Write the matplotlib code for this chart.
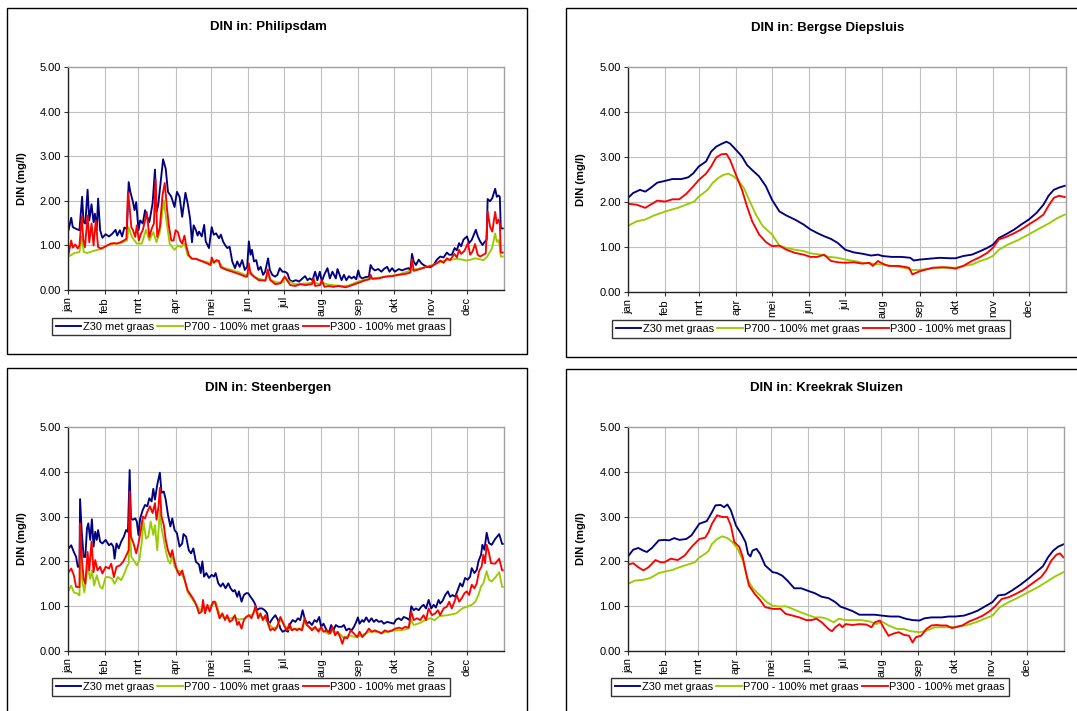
import matplotlib.pyplot as plt
from matplotlib.patches import Rectangle
import numpy as np

months = ['jan', 'feb', 'mrt', 'apr', 'mei', 'jun', 'jul', 'aug', 'sep', 'okt', 'nov', 'dec']
month_start = [0, 31, 59, 90, 120, 151, 181, 212, 243, 273, 304, 334]
series_names = ['Z30 met graas', 'P700 - 100% met graas', 'P300 - 100% met graas']
titles = ['DIN in: Philipsdam', 'DIN in: Bergse Diepsluis', 'DIN in: Steenbergen', 'DIN in: Kreekrak Sluizen']

# ---- Philipsdam (day, value) ----
phil_z30 = [[0.5,1.35],[2.7,1.62],[4,1.41],[6.8,1.37],[9.6,1.34],[11.8,2.09],[13,1.52],[14.5,1.49],[16.4,2.25],[17.8,1.56],[19.7,1.92],[21.4,1.52],[22.5,1.71],[24,1.34],[25.2,2.05],[26.9,1.34],[28.8,1.17],[31.5,1.25],[34.3,1.2],[37,1.26],[39.8,1.35],[41.2,1.22],[43.4,1.34],[45.3,1.2],[47.2,1.4],[49.4,1.37],[50.8,2.42],[52.2,2.2],[54.4,1.97],[55.7,1.79],[57.1,1.97],[59,1.34],[60.4,1.56],[62.6,1.49],[64.5,1.79],[65.9,1.67],[68.1,1.52],[70.8,1.94],[72.8,2.7],[74.1,1.75],[75.5,1.9],[77.4,2.37],[79.6,2.93],[81.8,2.72],[83.7,2.2],[86.5,2.09],[89.2,1.86],[91.2,2.2],[93.4,2.09],[95.6,1.64],[98.3,2.18],[100.2,1.94],[102.2,1.6],[103.8,1.07],[105.2,1.45],[107.1,1.34],[108.5,1.22],
            [109.7,1.31],[112,1.2],[114,1.46],[115.3,1.09],[118,0.94],[120.3,1.41],[122,1.24],[124,1.27],[126.4,1.16],[128,1.24],[129.8,1.09],[131.4,1.01],[133.4,0.94],[135.3,0.97],[137.5,0.64],[139.8,0.49],[141.7,0.64],[143.7,0.52],[145.8,0.67],[148,0.45],[150,0.52],[151.4,1.09],[152.8,0.79],[154,0.9],[155.7,0.64],[157.6,0.67],[159.4,0.45],[161.3,0.52],[163.3,0.34],[165,0.41],[167.5,0.71],[169,0.45],[171,0.34],[173.3,0.3],[175.3,0.34],[177.3,0.49],[179.5,0.41],[181.7,0.41],[183.7,0.37],[185.6,0.22],[187.9,0.19],[190.7,0.22],[193.5,0.19],[196.3,0.26],[198.5,0.31],[200.5,0.22],[202.4,0.26],[204.7,0.22],[206.9,0.41],[208.8,0.22],[210.8,0.41],[212.5,0.19],[214.5,0.34],[217.2,0.49],[219.2,0.26],[221.4,0.41],[224.2,0.26],[225.6,0.47],
            [229,0.22],[231,0.34],[233,0.22],[235.2,0.31],[237.4,0.26],[239.4,0.3],[241.3,0.24],[243,0.44],[244.4,0.3],[246.3,0.26],[249.1,0.29],[251.9,0.3],[253.3,0.56],[254.7,0.49],[256.9,0.44],[259.7,0.47],[262.4,0.41],[264.4,0.47],[267.2,0.52],[269.1,0.41],[271.3,0.49],[273.6,0.41],[276.9,0.47],[279.7,0.44],[282.4,0.47],[285.2,0.49],[286.6,0.44],[288,0.81],[289.4,0.64],[291.3,0.56],[293.6,0.68],[295.8,0.6],[297.7,0.56],[300.5,0.52],[303.3,0.51],[306,0.56],[308.8,0.68],[311.6,0.75],[314.4,0.73],[317.2,0.84],[319.1,0.79],[321.3,0.79],[323.7,0.94],[325.5,0.89],[327.4,1.05],[329.1,0.98],[331.1,1.13],[334,1.2],[335.8,1.05],[338.1,1.13],[340.3,1.28],[341.4,1.35],[343.1,1.2],[345,1.09],[347,1.01],[349.2,1.09],[350.5,1.13],[351.3,2.04],[353.3,1.99],[355.2,2.06],[357.6,2.27],[359,2.09],[360.4,2.12],[361.5,2.09],[362.3,1.38],[364,1.38]]
phil_p700 = [[0.5,0.75],[5.4,0.83],[9.6,0.85],[11.5,1.2],[13.2,0.85],[16.4,0.83],[20.6,0.87],[24.7,0.9],[28.8,0.93],[32.9,1.0],[38.4,1.04],[43.9,1.05],[49.4,1.11],[50.8,1.41],[53.5,1.19],[57.6,1.04],[61.8,1.04],[65.3,1.35],[68.1,1.11],[71.4,1.3],[74.1,1.07],[76.9,1.3],[80.2,2.01],[82.4,1.56],[85.1,1.04],[89.2,0.9],[92,1.0],[94.7,0.96],[97.5,1.04],[100.2,0.78],[103.8,0.7],[107,0.7],[110,0.67],[120,0.6],[122,0.64],[126,0.63],[130,0.5],[137,0.45],[143,0.4],[149,0.33],[151,0.36],[153,0.4],[156,0.3],[160,0.25],[165,0.22],[167,0.32],[170,0.22],[175,0.17],[180,0.17],[182,0.28],[185,0.2],[190,0.13],[195,0.14],[200,0.15],[206,0.17],[210,0.14],[213,0.16],[218,0.12],[225,0.1],[230,0.09],[235,0.1],[243,0.19],[249,0.24],[255,0.26],[266,0.3],[277,0.35],[288,0.45],[299,0.51],[309,0.6],[317,0.67],[326,0.7],[334,0.66],[341,0.71],[348,0.67],[351,0.75],[355,0.94],[357.6,1.27],[359,1.08],[360.4,1.12],[361.5,0.97],[362.3,0.75],[364,0.75]]
phil_p300 = [[0.5,0.81],[2.7,1.11],[4,0.95],[6,1.02],[8.2,0.93],[9.6,1.0],[11.5,1.65],[12.9,1.11],[14.2,0.96],[16.4,1.67],[17.8,1.07],[19.7,1.49],[21.4,1.0],[23.3,1.56],[25.2,0.96],[27.4,0.93],[30.2,0.96],[32.9,1.0],[35.7,1.04],[38.4,1.05],[41.2,1.04],[43.9,1.07],[46.7,1.11],[48.9,1.15],[50.2,2.2],[51.6,1.86],[53,1.41],[54.4,1.34],[56.3,1.19],[57.6,1.45],[59.3,1.11],[61,1.26],[62.6,1.34],[64.5,1.56],[65.9,1.75],[68.1,1.19],[70,1.37],[71.9,1.49],[73.3,2.48],[74.7,1.19],[76.9,1.41],[79.1,2.12],[81,2.4],[82.9,1.82],[84.6,1.41],[86.5,1.11],[88.4,1.11],[90.1,1.34],[92,1.3],[93.9,1.11],[95.6,1.04],[97.5,1.22],[98.9,1.0],[101.1,0.78],[103.8,0.7],[107.1,0.7],
             [109.7,0.67],[115.3,0.61],[119.4,0.56],[120.3,0.73],[122.2,0.61],[124.2,0.67],[126.4,0.65],[127.8,0.51],[131.9,0.46],[137.5,0.41],[143,0.36],[148.6,0.3],[150,0.3],[151.4,0.6],[152.8,0.37],[155.6,0.3],[159.7,0.22],[165.3,0.21],[167.2,0.46],[169.4,0.22],[173.6,0.13],[177.8,0.15],[181.4,0.3],[183.3,0.22],[186.1,0.11],[190.3,0.09],[194.4,0.13],[198.6,0.11],[204.2,0.13],[205.6,0.26],[206.9,0.09],[211.1,0.11],[212.5,0.22],[214.7,0.07],[218,0.09],[222.2,0.07],[226.4,0.09],
             [232.4,0.06],[238,0.11],[243,0.16],[249.1,0.22],[252.4,0.24],[253.3,0.34],[254.7,0.25],[260.2,0.26],[265.8,0.3],[271.3,0.31],[276.9,0.34],[282.4,0.36],[286.6,0.39],[288,0.69],[289.4,0.43],[293.6,0.46],[299.1,0.51],[304.7,0.54],[308.8,0.6],[311.6,0.66],[314.4,0.61],[317.2,0.71],[319.9,0.67],[323.5,0.81],[325.5,0.73],[327.4,0.9],[329.1,0.81],[331.9,0.88],[334.8,1.05],[336.7,0.79],[338.6,0.86],[340.8,1.03],[343,0.79],[345,0.75],[347.7,0.79],[349.7,0.82],[351.3,1.76],[353.3,1.42],[355.2,1.31],[357.6,1.75],[359,1.49],[360.4,1.58],[361.5,1.49],[362.3,0.84],[364,0.84]]

# ---- Bergse Diepsluis ----
berg_z30 = [[0,2.09],[4.3,2.2],[10,2.27],[14.4,2.23],[18.7,2.31],[24.4,2.43],[31,2.47],[37,2.51],[44.5,2.51],[50.3,2.55],[54.5,2.64],[59,2.79],[65,2.9],[69.3,3.12],[73.5,3.23],[77.8,3.29],[82,3.34],[85,3.3],[90,3.16],[95,3.01],[99.2,2.82],[103.5,2.71],[109.2,2.57],[114.9,2.35],[120,2.05],[126.2,1.79],[132,1.7],[139.1,1.61],[146.3,1.5],[152,1.39],[157.7,1.31],[163.4,1.24],[169.1,1.18],[174.8,1.09],[181,0.94],[188.2,0.88],[195.4,0.85],[202.6,0.81],[208.3,0.83],[212,0.8],[219.6,0.78],[228.1,0.78],[235.3,0.76],[238.1,0.7],[243,0.72],[251.1,0.74],[259.6,0.76],[268.1,0.75],[273,0.75],[279.5,0.8],[286.6,0.83],[293.7,0.91],[299.4,0.98],[304,1.05],[309.1,1.2],[314.8,1.28],[322,1.39],[327.7,1.5],[334,1.61],[340.5,1.76],[346.2,1.94],[350.5,2.14],[354.8,2.27],[359.1,2.32],[364,2.36]]
berg_p700 = [[0,1.47],[7.1,1.57],[14.4,1.61],[21.6,1.7],[31,1.79],[41.6,1.87],[50.3,1.96],[55.2,2.01],[59,2.12],[66.4,2.27],[70.7,2.43],[75,2.53],[79.3,2.6],[83.6,2.63],[88,2.57],[92.3,2.46],[96.6,2.31],[100.9,2.05],[106.6,1.72],[112.4,1.46],[120,1.28],[126.2,1.03],[132,0.98],[139.1,0.94],[146.3,0.91],[152,0.86],[160.6,0.83],[167.7,0.78],[174.8,0.76],[181,0.72],[188.2,0.69],[195.4,0.65],[202.6,0.63],[212,0.61],[219.6,0.58],[228.1,0.55],[237,0.49],[243,0.49],[251.1,0.52],[259.6,0.54],[268.1,0.54],[273,0.54],[279.5,0.58],[286.6,0.61],[293.7,0.69],[299.4,0.74],[304,0.8],[309.1,0.94],[316.2,1.05],[324.8,1.15],[334,1.28],[342,1.4],[350.5,1.52],[357.7,1.64],[364,1.72]]
berg_p300 = [[0,1.96],[7.1,1.94],[14.4,1.87],[18.7,1.94],[24.4,2.03],[31,2.01],[37,2.06],[42.7,2.06],[48.5,2.18],[54.5,2.35],[59,2.49],[65,2.63],[69.3,2.79],[73.5,2.99],[77.8,3.06],[82,3.07],[85,2.94],[90,2.6],[95,2.27],[99.2,1.9],[103.5,1.57],[109.2,1.28],[114.9,1.11],[120,1.02],[126.2,1.03],[132,0.94],[139.1,0.87],[146.3,0.83],[152,0.78],[157.7,0.78],[163.4,0.83],[169.1,0.69],[174.8,0.66],[181,0.65],[188.2,0.66],[195.4,0.63],[201.1,0.65],[204,0.58],[208.3,0.69],[212,0.63],[217.1,0.58],[225.6,0.58],[234.2,0.54],[237,0.39],[243,0.46],[248.5,0.5],[254.2,0.54],[262.7,0.55],[268.1,0.54],[273,0.52],[279.5,0.58],[286.6,0.69],[293.7,0.78],[299.4,0.87],[304,0.98],[309.1,1.17],[314.8,1.22],[322,1.31],[327.7,1.39],[334,1.5],[340.5,1.61],[346.2,1.72],[350.5,1.92],[354.8,2.09],[359.1,2.14],[364,2.11]]

# ---- Steenbergen ----
steen_z30 = [[0.5,2.29],[2.7,2.36],[4.9,2.21],[6.8,2.1],[8.2,1.88],[9.6,1.88],[10.1,3.39],[11.5,2.66],[13.1,2.1],[14.5,2.1],[15.9,2.74],[17,2.85],[18.6,2.48],[20,2.94],[21.4,2.33],[22.8,2.66],[24.1,2.48],[25.2,2.7],[26.9,2.44],[28.8,2.4],[31.5,2.48],[34.3,2.36],[36.2,2.4],[37.9,2.33],[39,2.06],[40.6,2.4],[42.5,2.29],[44.5,2.44],[46.7,2.55],[48.6,2.7],[50.2,2.66],[51.6,4.04],[52.7,2.96],[54.4,2.93],[56.3,2.96],[57.6,2.89],[59,2.59],[60.4,2.96],[62.6,3.15],[64.5,3.26],[66.4,3.23],[68.1,3.41],[70,3.34],[71.4,3.62],[72.8,3.38],[74.7,3.71],[76.9,3.98],[78.3,3.53],[80.2,3.56],[81.8,3.38],[83.7,3.04],[85.7,2.78],[87.3,2.96],[89.2,2.7],[91.2,2.63],[93.4,2.33],[95.6,2.4],[96.7,2.61],[98.9,2.55],[101.1,2.25],[103,2.18],[104.9,2.29],[107.1,1.99],
             [109.7,1.93],[111.1,1.74],[112.5,2.0],[113.9,1.66],[115.8,1.74],[118,1.63],[120.3,1.7],[122.2,1.66],[123.6,1.74],[125.8,1.51],[127.8,1.44],[129.7,1.51],[131.9,1.4],[134.2,1.51],[136.1,1.4],[138.1,1.33],[139.7,1.36],[141.7,1.21],[143.1,1.33],[145.3,1.1],[147.2,1.25],[149.2,1.29],[150.8,1.29],[152.8,1.21],[154.7,1.14],[156.4,1.06],[158.3,0.91],[160.3,0.95],[162.5,0.95],[164.7,0.91],[166.7,0.84],[168.1,0.58],[169.4,0.65],[171.4,0.73],[173.6,0.8],[175.8,0.69],[177.8,0.5],[179.7,0.43],[181.9,0.46],[184.2,0.43],[186.1,0.61],[188.1,0.69],[190.3,0.65],[192.5,0.73],[194.4,0.69],[196.4,0.91],[198.1,0.73],[200,0.61],[201.9,0.65],[204.2,0.58],[206.4,0.69],[208.3,0.65],[210.3,0.76],[211.9,0.54],[213.9,0.61],[215.8,0.5],[218.1,0.39],[220.3,0.58],[222.2,0.46],[224.2,0.58],[226.4,0.54],
             [229.1,0.54],[231,0.58],[233,0.46],[235.2,0.5],[237.4,0.46],[239.4,0.54],[241.3,0.65],[242.7,0.75],[244.1,0.61],[246.3,0.69],[247.7,0.65],[249.7,0.75],[251.9,0.65],[254.1,0.73],[256.1,0.65],[258,0.7],[260.2,0.65],[262.4,0.67],[264.4,0.61],[267.2,0.65],[269.9,0.63],[272.7,0.61],[274.7,0.7],[276.9,0.73],[279.1,0.69],[281.1,0.76],[283.8,0.73],[285.8,0.69],[287.4,1.0],[289.4,0.91],[291.3,0.95],[293.6,0.91],[295.8,0.99],[297.7,1.03],[299.7,0.95],[301.9,1.14],[304.1,0.95],[306.1,1.03],[308,0.97],[310.2,1.14],[311.6,1.06],[313.6,1.12],[315.8,1.25],[318,1.33],[319.9,1.21],[321.9,1.25],[324.1,1.21],[326.3,1.36],[328.3,1.51],[330.2,1.44],[332.4,1.63],[334.6,1.59],[336.6,1.66],[338,1.85],[340.2,1.74],[342.2,1.81],[343.6,2.0],[345.8,2.15],[346.9,2.37],[348.6,2.26],[350.5,2.64],[352.4,2.41],[354.7,2.37],[357.6,2.5],[361,2.61],[363.4,2.39],[364,2.39]]
steen_p700 = [[0.5,1.35],[2.7,1.46],[4.9,1.31],[8.2,1.28],[9.6,1.24],[10.4,2.1],[11.8,1.58],[13.7,1.31],[16.4,1.88],[18.6,1.61],[20,1.8],[21.9,1.46],[24.1,1.69],[26.9,1.43],[28.8,1.39],[31.5,1.65],[34.3,1.65],[37,1.61],[39,1.5],[41.7,1.65],[44.5,1.58],[47.2,1.73],[49.4,1.89],[50.8,1.95],[51.6,2.89],[53,2.1],[54.9,2.03],[57.6,1.91],[59.8,2.03],[61.8,2.44],[63.2,2.89],[65.3,2.51],[67.2,2.55],[69.2,2.89],[71.4,2.59],[72.8,2.81],[74.7,2.25],[76.9,3.15],[78.3,2.74],[80.2,2.48],[81.8,2.25],[83.7,2.03],[85.7,1.95],[87.3,2.18],[89.2,1.88],[92,1.8],[94.7,1.76],[97.5,1.58],[100.2,1.31],[103,1.2],[105.7,1.09],[108.5,0.98],
              [111,0.9],[113,1.0],[116,0.95],[121,1.05],[124,1.08],[127,0.8],[131,0.75],[135,0.72],[139,0.76],[143,0.7],[147,0.72],[151,0.78],[155,0.82],[157,0.95],[160,0.78],[164,0.75],[168,0.62],[171,0.52],[175,0.52],[178,0.7],[181,0.58],[184,0.48],[188,0.48],[192,0.5],[196,0.48],[198,0.65],[202,0.52],[206,0.5],[210,0.48],[214,0.45],[218,0.38],[222,0.45],[226,0.4],
              [229,0.35],[231,0.28],[235,0.35],[241,0.31],[246,0.35],[252,0.43],[257,0.43],[263,0.41],[268,0.43],[274,0.46],[279,0.46],[285,0.5],[287.4,0.69],[289.4,0.58],[295,0.63],[299,0.69],[303,0.73],[307,0.69],[311,0.78],[318,0.8],[325,0.84],[330,0.95],[334,0.99],[338,1.03],[341,1.1],[343.6,1.25],[345.8,1.44],[347.7,1.51],[350.5,1.78],[352.4,1.59],[354.7,1.55],[358,1.65],[361,1.76],[363.4,1.43],[364,1.43]]
steen_p300 = [[0.5,1.76],[2.7,1.84],[4.9,1.69],[6.8,1.43],[9.6,1.43],[10.1,2.85],[11.5,2.1],[13.1,1.61],[14.5,1.5],[16.4,2.21],[17.8,1.8],[19.7,2.44],[21.4,1.76],[22.8,2.03],[24.7,1.8],[26.9,1.88],[28.8,1.73],[31.5,1.88],[34.3,1.84],[36.2,1.95],[38.4,1.65],[40.6,1.88],[43.4,1.91],[46.1,1.99],[48.9,2.14],[50.8,2.25],[51.6,3.56],[52.7,2.55],[54.9,2.4],[57.1,2.18],[59,2.4],[61,2.7],[62.6,3.0],[64.5,2.96],[66.4,3.11],[68.6,3.23],[70.8,3.08],[72.8,3.3],[74.1,2.93],[75.8,3.23],[76.9,3.64],[78.3,3.0],[80.2,2.81],[81.8,2.48],[83.7,2.25],[85.7,2.1],[87.3,2.25],[89.2,1.99],[91.2,1.8],[93.4,1.69],[95.6,1.8],[97.5,1.61],[100.2,1.35],[103,1.24],[104.9,1.16],[107.1,1.05],
              [109.7,0.84],[112,0.88],[113,1.14],[114.7,0.84],[116.7,1.03],[118.6,0.88],[121.4,1.1],[123,1.1],[125,0.91],[126.9,0.73],[129.2,0.84],[131.4,0.69],[133.3,0.8],[135.3,0.65],[137.5,0.69],[139.7,0.8],[141.7,0.58],[143.1,0.65],[145.3,0.5],[147.2,0.69],[149.2,0.76],[151.4,0.8],[153.6,0.73],[155.6,0.88],[156.9,1.0],[159.2,0.73],[161.1,0.84],[163.1,0.69],[165.3,0.8],[167.5,0.61],[169.4,0.46],[171.4,0.5],[173.1,0.46],[175,0.54],[177.8,0.76],[179.7,0.65],[181.4,0.54],[183.3,0.46],[185.3,0.61],[187.5,0.46],[189.7,0.5],[191.7,0.46],[193.6,0.5],[195.8,0.46],[198.1,0.73],[200,0.58],[201.9,0.54],[204.2,0.46],[206.9,0.54],[209.7,0.43],[211.9,0.54],[213.9,0.43],[216.7,0.46],[219.4,0.39],[221.4,0.54],[223.6,0.35],[225.8,0.43],[227.8,0.31],[229.7,0.16],[231.4,0.31],[233.8,0.28],
              [236.6,0.46],[239.4,0.39],[242.2,0.31],[244.1,0.43],[246.3,0.31],[249.1,0.39],[251.9,0.5],[254.1,0.43],[256.9,0.46],[259.7,0.43],[262.4,0.39],[265.2,0.46],[268,0.43],[271.3,0.46],[274.1,0.5],[276.9,0.52],[279.7,0.5],[282.4,0.54],[285.2,0.52],[287.4,0.88],[289.4,0.69],[292.2,0.73],[294.9,0.69],[297.7,0.8],[299.7,0.69],[301.9,0.95],[304.7,0.8],[307.4,0.84],[309.7,0.91],[311.6,0.8],[314.4,0.95],[317.2,0.99],[319.1,1.1],[321.3,0.95],[323.5,1.1],[325.5,1.25],[327.4,1.1],[329.7,1.18],[331.9,1.29],[333.8,1.33],[335.8,1.25],[338,1.48],[340.2,1.4],[342.2,1.51],[344.1,1.78],[346.3,1.89],[347.7,2.15],[349.1,1.96],[350.5,2.37],[352.4,2.19],[354.1,1.96],[357.6,1.95],[361,2.06],[363.4,1.8],[364,1.8]]

# ---- Kreekrak Sluizen ----
kreek_z30 = [[0,2.11],[4.3,2.26],[8.6,2.3],[12.9,2.24],[15.8,2.21],[20.1,2.3],[25.8,2.47],[30.4,2.48],[34.4,2.47],[38.7,2.52],[43,2.48],[48.8,2.5],[53.1,2.58],[59.7,2.84],[66,2.9],[70.3,3.1],[73.2,3.25],[77.5,3.26],[80.4,3.21],[83.2,3.27],[86.1,3.14],[90.4,2.8],[94.7,2.62],[98.4,2.43],[100.5,2.17],[102.5,2.11],[104.2,2.24],[107.6,2.28],[110.5,2.17],[114.8,1.91],[121.1,1.76],[124.8,1.74],[129.2,1.68],[133.5,1.57],[139.2,1.4],[144.9,1.4],[152.1,1.33],[156.4,1.29],[162.2,1.21],[167.9,1.18],[173.6,1.09],[177.9,0.99],[182.2,0.95],[188,0.89],[193.7,0.81],[200.9,0.81],[206.6,0.81],[212.4,0.79],[219.6,0.77],[226.7,0.77],[232.5,0.72],[238.2,0.69],[244,0.68],[248.3,0.73],[254,0.75],[262.6,0.75],[268.4,0.77],[274.1,0.77],[281.3,0.79],[287,0.84],[292.7,0.9],[298.5,0.99],[305.1,1.09],[309.9,1.24],[315.7,1.26],[321.4,1.35],[328.6,1.48],[334.9,1.61],[341.5,1.76],[347.3,1.89],[351.6,2.09],[355.9,2.24],[360.2,2.33],[364.5,2.38]]
kreek_p700 = [[0,1.5],[5.7,1.57],[12.9,1.59],[18.7,1.63],[25.8,1.74],[30.4,1.77],[37.3,1.81],[43,1.87],[50.2,1.93],[56,1.98],[59.7,2.09],[64.6,2.17],[67.4,2.23],[70.3,2.39],[74.6,2.5],[78.9,2.56],[83.2,2.52],[87.5,2.43],[91.8,2.28],[96.1,2.02],[100.5,1.57],[104.8,1.39],[110.5,1.24],[116.2,1.09],[121.1,1.01],[127.7,0.99],[132,1.0],[137.8,0.94],[144.9,0.86],[152.1,0.79],[156.4,0.75],[162.2,0.75],[166.5,0.72],[172.2,0.64],[176.5,0.72],[182.2,0.69],[188,0.69],[195.2,0.69],[202.3,0.66],[208.1,0.6],[212.4,0.66],[218.1,0.57],[225.3,0.49],[231,0.49],[236.8,0.44],[244,0.42],[249.7,0.45],[256.9,0.53],[265.5,0.53],[274.1,0.54],[282.7,0.57],[291.3,0.64],[298.5,0.72],[305.1,0.79],[311.4,0.98],[318.6,1.09],[325.8,1.18],[334.9,1.31],[342.9,1.42],[350.1,1.54],[357.3,1.66],[364.5,1.76]]
kreek_p300 = [[0,1.93],[4.3,1.96],[8.6,1.87],[12.9,1.8],[17.2,1.87],[23,2.03],[27.3,1.98],[30.4,1.98],[35.9,2.06],[41.6,2.03],[47.4,2.13],[53.1,2.32],[59.7,2.5],[64.6,2.53],[67.4,2.65],[70.3,2.84],[74.6,3.03],[78.9,2.99],[83.2,2.99],[86.1,2.8],[89,2.43],[93.3,2.32],[96.1,2.09],[99,1.72],[101.3,1.46],[106.2,1.27],[110.5,1.14],[114.8,0.98],[121.1,0.94],[127.7,0.94],[132,0.83],[137.8,0.79],[143.5,0.75],[149.2,0.69],[153.5,0.69],[157.8,0.72],[162.2,0.64],[167.9,0.49],[170.8,0.44],[173.6,0.53],[177.1,0.6],[179.4,0.53],[182.2,0.6],[188,0.58],[193.7,0.6],[199.5,0.59],[203.8,0.53],[206.6,0.64],[210.9,0.68],[213.8,0.53],[218.1,0.34],[222.4,0.39],[226.7,0.42],[231,0.36],[235.3,0.34],[238.2,0.19],[241.1,0.31],[245.4,0.34],[249.7,0.49],[254,0.57],[258.3,0.58],[262.6,0.57],[266.9,0.57],[271.2,0.51],[274.1,0.53],[279.8,0.57],[285.6,0.66],[291.3,0.72],[297.1,0.79],[302.8,0.89],[307.1,0.99],[312.8,1.16],[318.6,1.2],[324.3,1.27],[330.1,1.35],[334.9,1.44],[340.1,1.54],[345.8,1.65],[350.1,1.8],[354.4,2.02],[358.7,2.15],[361.6,2.18],[364.5,2.09]]

panels = [
    [phil_z30, phil_p700, phil_p300],
    [berg_z30, berg_p700, berg_p300],
    [steen_z30, steen_p700, steen_p300],
    [kreek_z30, kreek_p700, kreek_p300],
]
colors = ['#000080', '#99cc00', '#ff0000']

W, H = 1077, 711
fig = plt.figure(figsize=(W / 100, H / 100), dpi=100)
plt.rcParams['font.family'] = ['Liberation Sans', 'DejaVu Sans']

def fx(px):
    return px / W

def fy(py):
    return 1 - py / H

# pixel boxes: frame, plot area (l, t, r, b), title pos, legend centre, ylabel x
layout = [
    dict(frame=(7, 8, 527, 354), plot=(68, 67, 504, 290), title=(268, 27), leg=(251, 326.5), ylab=27),
    dict(frame=(566, 8, 1090, 357), plot=(628, 67, 1066, 292), title=(828, 28), leg=(811, 329), ylab=586),
    dict(frame=(7, 368, 527, 720), plot=(68, 427, 504, 651), title=(268, 388), leg=(251, 687), ylab=27),
    dict(frame=(566, 369, 1090, 720), plot=(628, 427, 1064, 651), title=(826, 388), leg=(810, 687), ylab=586),
]

for i in range(4):
    lay = layout[i]
    fl, ft, fr, fb = lay['frame']
    fig.patches.append(Rectangle((fx(fl), fy(fb)), fx(fr - fl), (fb - ft) / H,
                                 transform=fig.transFigure, fill=False,
                                 edgecolor='black', linewidth=1.0))
    l, t, r, b = lay['plot']
    ax = fig.add_axes([fx(l), fy(b), fx(r - l), (b - t) / H])
    handles = []
    for k in range(3):
        arr = np.array(panels[i][k])
        h, = ax.plot(arr[:, 0], arr[:, 1], color=colors[k], lw=1.35, solid_joinstyle='round')
        handles.append(h)
    ax.set_xlim(0, 365)
    ax.set_ylim(0, 5)
    ax.set_yticks([0, 1, 2, 3, 4, 5])
    ax.set_yticklabels(['%.2f' % v for v in range(6)])
    ax.set_xticks(month_start)
    ax.set_xticklabels(months, rotation=90, va='top', ha='center')
    ax.tick_params(axis='both', labelsize=8, length=3, width=0.8, color='#333333', pad=2)
    ax.grid(True, color='#c0c0c0', lw=0.8)
    ax.set_axisbelow(True)
    for s in ['top', 'right']:
        ax.spines[s].set_color('#a0a0a0')
        ax.spines[s].set_linewidth(1.0)
    for s in ['left', 'bottom']:
        ax.spines[s].set_color('#222222')
        ax.spines[s].set_linewidth(1.0)
    ax.set_ylabel('DIN (mg/l)', fontsize=8, fontweight='bold')
    ax.yaxis.set_label_coords((lay['ylab'] - l) / (r - l), 0.5)
    fig.text(fx(lay['title'][0]), fy(lay['title'][1]), titles[i], ha='center', va='center',
             fontsize=9.5, fontweight='bold')
    leg = fig.legend(handles, series_names, loc='center', ncol=3,
                     bbox_to_anchor=(fx(lay['leg'][0]), fy(lay['leg'][1])),
                     fontsize=7.9, frameon=True, fancybox=False, edgecolor='black',
                     handlelength=2.3, handletextpad=0.15, columnspacing=0.3,
                     borderpad=0.35, borderaxespad=0)
    leg.get_frame().set_linewidth(1.0)

fig.savefig('out.png', dpi=100)
